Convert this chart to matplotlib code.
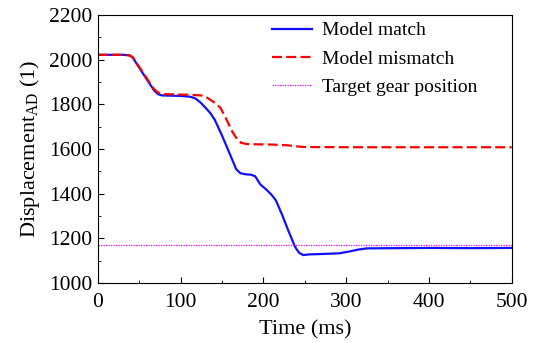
import matplotlib
matplotlib.use('Agg')
import matplotlib.pyplot as plt
from matplotlib.ticker import MultipleLocator

plt.rcParams['font.family'] = 'Liberation Serif'
plt.rcParams['mathtext.fontset'] = 'custom'
plt.rcParams['mathtext.rm'] = 'Liberation Serif'

# values
t_match = [0, 30, 38, 42, 48, 55, 62, 68, 73, 78, 100, 112, 118, 124, 130, 136, 141, 150,
           160, 167, 172, 178, 185, 190, 196, 203, 210, 215, 222, 230, 238, 243, 248, 255,
           272, 292, 305, 315, 325, 400, 450, 500]
v_match = [2022, 2022, 2020, 2010, 1975, 1935, 1895, 1862, 1845, 1840, 1838, 1834, 1826,
           1808, 1785, 1760, 1732, 1660, 1572, 1510, 1492, 1487, 1485, 1478, 1442, 1420,
           1394, 1370, 1310, 1235, 1163, 1135, 1125, 1128, 1130, 1133, 1142, 1150, 1155,
           1157, 1156, 1157]

t_mismatch = [0, 30, 38, 42, 48, 55, 62, 68, 73, 78, 110, 125, 132, 140, 148, 155, 162,
              168, 173, 180, 210, 228, 248, 300, 400, 500]
v_mismatch = [2022, 2022, 2020, 2012, 1978, 1940, 1900, 1868, 1852, 1846, 1843, 1840, 1830,
              1810, 1785, 1735, 1680, 1645, 1628, 1622, 1620, 1617, 1609, 1608, 1608, 1608]

target = 1170

fig = plt.figure(figsize=(5.41, 3.43), dpi=100)
ax = fig.add_axes([0.181, 0.175, 0.765, 0.781])

ax.plot(t_match, v_match, color='#1010ff', lw=1.6, label='Model match')
ax.plot(t_mismatch, v_mismatch, color='#ff0000', lw=1.6, dashes=(4.5, 1.9), label='Model mismatch')
ax.axhline(target, color='#ff00ff', lw=0.9, ls=(0, (1, 1)), label='Target gear position')

ax.set_xlim(0, 500)
ax.set_ylim(1000, 2200)
ax.xaxis.set_major_locator(MultipleLocator(100))
ax.xaxis.set_minor_locator(MultipleLocator(50))
ax.yaxis.set_major_locator(MultipleLocator(200))
ax.yaxis.set_minor_locator(MultipleLocator(100))
ax.tick_params(which='both', direction='in', labelsize=15.5, top=False, right=False)
ax.tick_params(which='major', length=4)
ax.tick_params(which='minor', length=2.5)
ax.tick_params(axis='x', pad=7)
ax.tick_params(axis='y', pad=4)

ax.set_xlabel('Time (ms)', fontsize=16, labelpad=6)
ax.set_ylabel('Displacement$_{\\mathrm{AD}}$ (1)', fontsize=16, labelpad=5)

ax.legend(loc='upper left', bbox_to_anchor=(0.42, 0.975), frameon=False, fontsize=14,
          handlelength=2.05, labelspacing=0.55, borderaxespad=0, borderpad=0,
          handletextpad=0.52)

fig.savefig('out.png', dpi=100)
